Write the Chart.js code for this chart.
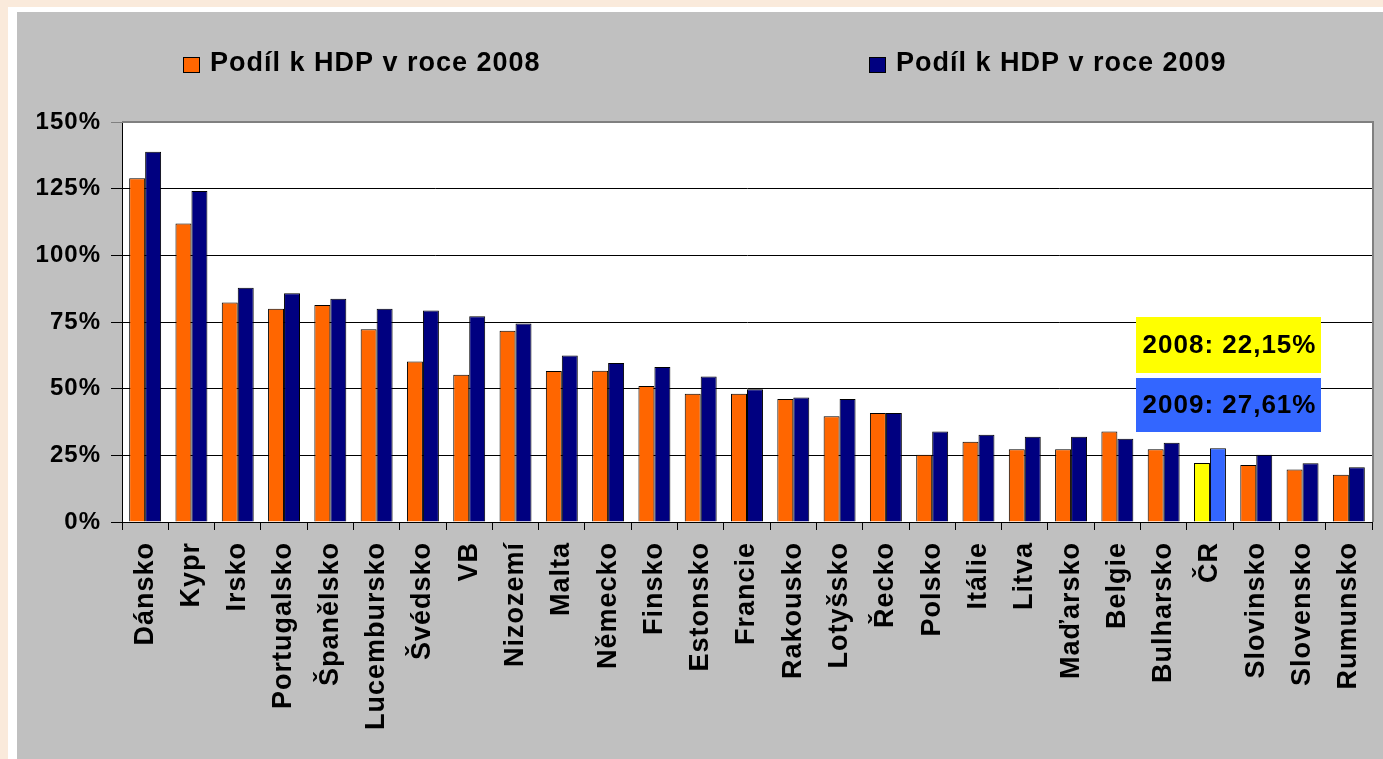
<!DOCTYPE html>
<html>
<head>
<meta charset="utf-8">
<script src="https://cdn.jsdelivr.net/npm/chart.js@4.4.1/dist/chart.umd.min.js"></script>
<style>
  html, body { margin: 0; padding: 0; background: #faeadb; }
  #wrap { position: relative; width: 1383px; height: 759px; }
</style>
</head>
<body>
<div id="wrap"><canvas id="chart"></canvas></div>
<script>
var categories = ['Dánsko', 'Kypr', 'Irsko', 'Portugalsko', 'Španělsko', 'Lucembursko', 'Švédsko', 'VB',
    'Nizozemí', 'Malta', 'Německo', 'Finsko', 'Estonsko', 'Francie', 'Rakousko', 'Lotyšsko', 'Řecko',
    'Polsko', 'Itálie', 'Litva', 'Maďarsko', 'Belgie', 'Bulharsko', 'ČR', 'Slovinsko', 'Slovensko', 'Rumunsko'];

var share2008 = [128.9, 111.9, 82.3, 80.0, 81.4, 72.3, 60.2, 55.2, 71.7, 56.6, 56.7, 51.0, 48.1, 48.1,
    46.1, 39.7, 40.9, 25.2, 30.1, 27.3, 27.3, 33.9, 27.3, 22.15, 21.4, 19.7, 17.7];

var share2009 = [138.8, 124.1, 87.8, 85.8, 83.7, 80.0, 79.3, 77.2, 74.4, 62.4, 59.6, 58.1, 54.6, 49.8,
    46.7, 46.1, 40.9, 33.9, 32.7, 32.0, 32.0, 31.2, 29.7, 27.61, 25.2, 22.0, 20.5];

var seriesLabels = ['Podíl k HDP v roce 2008', 'Podíl k HDP v roce 2009'];
var yTicks = [0, 25, 50, 75, 100, 125, 150];
var highlight = 'ČR';
var noteLines = ['2008: 22,15%', '2009: 27,61%'];

var FONT = "'Liberation Sans', Arial, sans-serif";
var colors = { y2008: '#ff6600', y2009: '#000080', hl2008: '#ffff00', hl2009: '#3366ff' };

function barColors(base, hl) {
    return categories.map(function (c) { return c === highlight ? hl : base; });
}

var backdrop = {
    id: 'backdrop',
    beforeDraw: function (chart) {
        var ctx = chart.ctx, a = chart.chartArea;
        ctx.save();
        ctx.fillStyle = '#faeadb';
        ctx.fillRect(0, 0, chart.width, chart.height);
        ctx.fillStyle = '#ffffff';
        ctx.fillRect(8, 7, chart.width - 8, chart.height - 7);
        ctx.fillStyle = '#c0c0c0';
        ctx.fillRect(17, 12, chart.width - 17, chart.height - 12);
        ctx.fillStyle = '#ffffff';
        ctx.fillRect(a.left, a.top, a.right - a.left, a.bottom - a.top);
        ctx.restore();
        ctx.letterSpacing = '1px';
    },
    afterDatasetsDraw: function (chart) {
        var ctx = chart.ctx, a = chart.chartArea;
        ctx.save();
        // plot border (top / right)
        ctx.strokeStyle = '#808080';
        ctx.lineWidth = 2;
        ctx.beginPath();
        ctx.moveTo(a.left, a.top);
        ctx.lineTo(a.right + 1, a.top);
        ctx.lineTo(a.right + 1, a.bottom);
        ctx.stroke();

        // legend
        ctx.letterSpacing = '1px';
        ctx.font = 'bold 27px ' + FONT;
        ctx.textBaseline = 'alphabetic';
        ctx.textAlign = 'left';
        var lx = [183, 869];
        chart.data.datasets.forEach(function (ds, i) {
            ctx.fillStyle = ds.legendColor;
            ctx.fillRect(lx[i], 57, 17, 16);
            ctx.strokeStyle = '#000';
            ctx.lineWidth = 1;
            ctx.strokeRect(lx[i] + 0.5, 57.5, 16, 15);
            ctx.fillStyle = '#000';
            ctx.fillText(ds.label, lx[i] + 27, 71);
        });

        // notes for ČR
        var bx = a.right - 236, bw = 185;
        var boxes = [[317, 56, colors.hl2008], [378, 54, colors.hl2009]];
        ctx.font = 'bold 26px ' + FONT;
        ctx.textAlign = 'center';
        ctx.textBaseline = 'middle';
        boxes.forEach(function (b, i) {
            ctx.fillStyle = b[2];
            ctx.fillRect(bx, b[0], bw, b[1]);
            ctx.fillStyle = '#000';
            ctx.fillText(noteLines[i], bx + bw / 2 + 1, b[0] + b[1] / 2 + 1);
        });
        ctx.restore();
    }
};

new Chart(document.getElementById('chart'), {
    type: 'bar',
    data: {
        labels: categories,
        datasets: [{
            label: seriesLabels[0],
            data: share2008,
            legendColor: colors.y2008,
            backgroundColor: barColors(colors.y2008, colors.hl2008),
            borderColor: '#000',
            borderWidth: 1
        }, {
            label: seriesLabels[1],
            data: share2009,
            legendColor: colors.y2009,
            backgroundColor: barColors(colors.y2009, colors.hl2009),
            borderColor: '#000',
            borderWidth: 1
        }]
    },
    options: {
        responsive: true,
        maintainAspectRatio: false,
        animation: false,
        layout: { padding: { left: 0, top: 122, right: 11, bottom: 0 } },
        datasets: { bar: { categoryPercentage: 0.69, barPercentage: 1.0 } },
        plugins: {
            legend: { display: false },
            tooltip: { enabled: false }
        },
        scales: {
            x: {
                offset: true,
                grid: { display: true, drawOnChartArea: false, drawTicks: true, tickLength: 8, color: '#000', offset: true },
                border: { display: true, color: '#000', width: 1 },
                ticks: {
                    autoSkip: false,
                    minRotation: 90,
                    maxRotation: 90,
                    padding: 12,
                    color: '#000',
                    font: { family: FONT, size: 27, weight: 'bold' }
                },
                afterFit: function (s) { s.height = 237; s.paddingLeft = 0; s.paddingRight = 0; }
            },
            y: {
                min: 0,
                max: 150,
                afterBuildTicks: function (s) { s.ticks = yTicks.map(function (v) { return { value: v }; }); },
                grid: {
                    color: function (c) { return c.tick && c.tick.value === 150 ? '#808080' : '#000'; },
                    lineWidth: 1,
                    tickLength: 11,
                    drawTicks: true
                },
                border: { display: true, color: '#000', width: 1 },
                ticks: {
                    padding: 10,
                    color: '#000',
                    font: { family: FONT, size: 24, weight: 'bold' },
                    callback: function (v) { return v + '%'; }
                },
                afterFit: function (s) { s.width = 122; s.paddingTop = 0; s.paddingBottom = 0; }
            }
        }
    },
    plugins: [backdrop]
});
</script>
</body>
</html>
